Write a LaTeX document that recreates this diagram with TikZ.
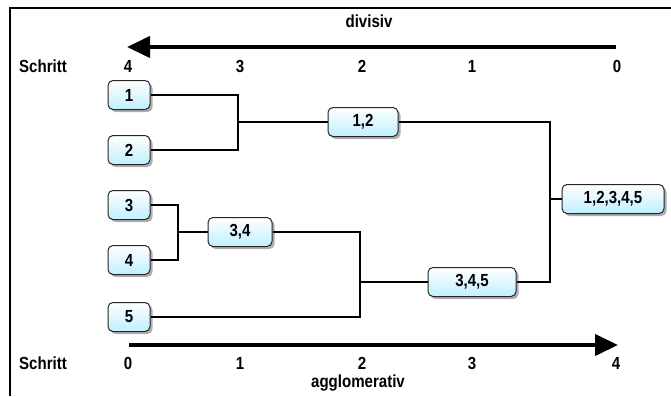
\documentclass[tikz,border=0pt]{standalone}
\usepackage{fontspec}
\setmainfont{Liberation Sans}[FakeStretch=0.86]
\usetikzlibrary{arrows.meta,shadows,positioning}
\tikzset{
  txt/.style={font=\bfseries\fontsize{17.5}{19}\selectfont},
  lbl/.style={txt, inner sep=0pt},
  box/.style={draw=black!85, line width=1pt, rounded corners=5pt,
    top color=white, bottom color=blue!25!cyan!25,
    drop shadow={shadow xshift=2.5pt, shadow yshift=-2.5pt, fill=black!45, opacity=0.7},
    minimum height=29pt, inner sep=0pt, txt},
  leaf/.style={box, minimum width=42pt},
  conn/.style={line width=2pt, black},
  axis/.style={line width=4pt, -{Triangle[length=23pt,width=21pt]}},
}
\begin{document}
\begin{tikzpicture}[x=1pt,y=-1pt]
\useasboundingbox (0,0) rectangle (671,396);
% frame
\draw[line width=2pt] (671,8) -- (9.5,8) -- (9.5,396);
% top axis
\node[lbl] (div) at (369,21) {divisiv};
\coordinate (ta0) at (616,47);
\coordinate (ta4) at (127,47);
\draw[axis] (ta0) -- (ta4);
\node[lbl] (ts) at (43,66) {Schritt};
\node[lbl] (t4) at (128,66) {4};
\node[lbl] (t3) at (240,66) {3};
\node[lbl] (t2) at (362,66) {2};
\node[lbl] (t1) at (472,66) {1};
\node[lbl] (t0) at (617,66) {0};
% bottom axis
\coordinate (ba0) at (129,345);
\coordinate (ba4) at (618,345);
\draw[axis] (ba0) -- (ba4);
\node[lbl] (bs) at (43,363) {Schritt};
\node[lbl] (b0) at (128,363) {0};
\node[lbl] (b1) at (240,363) {1};
\node[lbl] (b2) at (362,363) {2};
\node[lbl] (b3) at (472,363) {3};
\node[lbl] (b4) at (616,363) {4};
\node[lbl] (agg) at (358,383) {agglomerativ};
% nodes
\node[leaf] (n1) at (129,95) {1};
\node[leaf] (n2) at (129,150) {2};
\node[leaf] (n3) at (129,205) {3};
\node[leaf] (n4) at (129,260) {4};
\node[leaf] (n5) at (129,317) {5};
\node[box, minimum width=70pt] (n12) at (363,122) {1,2};
\node[box, minimum width=64pt] (n34) at (240,232) {3,4};
\node[box, minimum width=88pt] (n345) at (472,282) {3,4,5};
\node[box, minimum width=102pt] (nall) at (613,199) {1,2,3,4,5};
% joints
\coordinate (j12) at (238,122);
\coordinate (j34) at (178,232);
\coordinate (j345) at (360,282);
\coordinate (jall) at (550,199);
\draw[conn] (n1.east) -| (j12) |- (n2.east);
\draw[conn] (j12) -- (n12.west);
\draw[conn] (n3.east) -| (j34) |- (n4.east);
\draw[conn] (j34) -- (n34.west);
\draw[conn] (n34.east) -| (j345) |- (n5.east);
\draw[conn] (j345) -- (n345.west);
\draw[conn] (n12.east) -| (jall) |- (n345.east);
\draw[conn] (jall) -- (nall.west);
\end{tikzpicture}
\end{document}
